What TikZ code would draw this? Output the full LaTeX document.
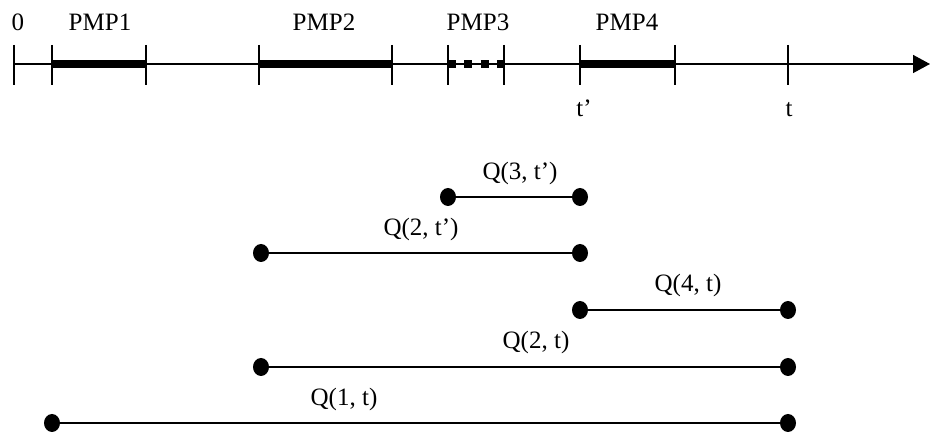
\documentclass[tikz,border=0pt]{standalone}
\usepackage{fontspec}
\setmainfont{Liberation Serif}
\usetikzlibrary{arrows.meta,shapes.geometric}
\begin{document}
\begin{tikzpicture}[x=1pt,y=-1pt,
  lbl/.style={font=\fontsize{25}{29}\selectfont, anchor=base, inner sep=0pt},
  dot/.style={ellipse, fill=black, minimum width=16pt, minimum height=18pt, inner sep=0pt},
  tick/.style={line width=1.6pt},
  axisline/.style={line width=1.5pt, -{Triangle[length=17pt,width=18pt]}},
  bar/.style={line width=8pt},
  dotbar/.style={line width=8pt, dash pattern=on 8pt off 8.33pt},
  interval/.style={line width=2pt}]
\useasboundingbox (0,0) rectangle (930,435);
% axis
\coordinate (a0) at (14,64);
\coordinate (aend) at (930,64);
\draw[axisline] (a0) -- (aend);
% ticks
\foreach \n/\x in {k0/14,k1/52,k2/146,k3/259,k4/392,k5/448,k6/504,k7/580,k8/675,k9/788}{
  \coordinate (\n) at (\x,64);
  \draw[tick] (\x,45) -- (\x,85);
}
% periods
\draw[bar] (k1) -- (k2);
\draw[bar] (k3) -- (k4);
\draw[dotbar] (k5) -- (k6);
\draw[bar] (k7) -- (k8);
% labels on axis
\node[lbl] (l0) at (18,31) {0};
\node[lbl] (p1) at (100,31) {PMP1};
\node[lbl] (p2) at (324,31) {PMP2};
\node[lbl] (p3) at (478,31) {PMP3};
\node[lbl] (p4) at (627,31) {PMP4};
\node[lbl] (ltp) at (584,117) {t’};
\node[lbl] (lt) at (789,117) {t};
% intervals
\node[dot] (q3a) at (448,197) {};
\node[dot] (q3b) at (580,197) {};
\draw[interval] (q3a) -- (q3b);
\node[lbl] (q3l) at (520,180) {Q(3, t’)};
\node[dot] (q2a) at (261,253) {};
\node[dot] (q2b) at (580,253) {};
\draw[interval] (q2a) -- (q2b);
\node[lbl] (q2l) at (421,236) {Q(2, t’)};
\node[dot] (q4a) at (580,310) {};
\node[dot] (q4b) at (788,310) {};
\draw[interval] (q4a) -- (q4b);
\node[lbl] (q4l) at (688,292) {Q(4, t)};
\node[dot] (r2a) at (261,367) {};
\node[dot] (r2b) at (788,367) {};
\draw[interval] (r2a) -- (r2b);
\node[lbl] (r2l) at (536,349) {Q(2, t)};
\node[dot] (r1a) at (52,423) {};
\node[dot] (r1b) at (788,423) {};
\draw[interval] (r1a) -- (r1b);
\node[lbl] (r1l) at (344,406) {Q(1, t)};
\end{tikzpicture}
\end{document}
